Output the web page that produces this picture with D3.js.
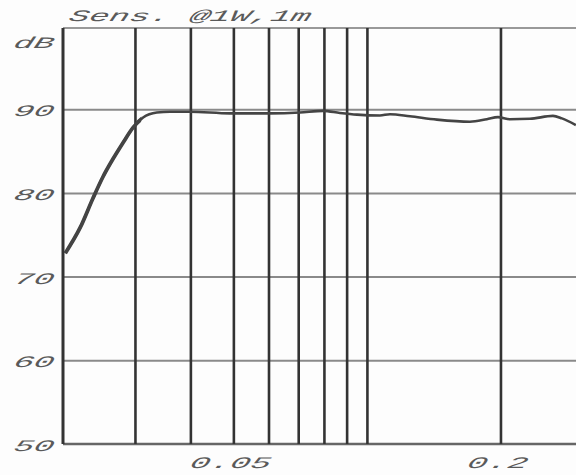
<!DOCTYPE html>
<html>
<head>
<meta charset="utf-8">
<script src="https://cdn.jsdelivr.net/npm/d3@7"></script>
<style>
  body { margin: 0; background: #fdfdfd; }
  svg { display: block; }
  .lbl { font-family: "Liberation Mono", "DejaVu Sans Mono", monospace; font-style: italic; fill: #5a5a5a; font-size: 16px; }
</style>
</head>
<body>
<div id="chart"></div>
<script>
// data (frequency in kHz, level in dB)
const freq = [0.0209, 0.0226, 0.0241, 0.0254, 0.0268, 0.0282, 0.0297, 0.0313, 0.0336, 0.036,
              0.0399, 0.0491, 0.0604, 0.0706, 0.0796, 0.0869, 0.095, 0.107, 0.1127, 0.125,
              0.1438, 0.1707, 0.1864, 0.1974, 0.21, 0.233, 0.2626, 0.2751, 0.2958]
const level = [72.8, 75.9, 79.3, 81.9, 84.1, 86.0, 87.8, 89.0, 89.6, 89.7,
               89.7, 89.5, 89.5, 89.6, 89.8, 89.55, 89.35, 89.25, 89.4, 89.15,
               88.75, 88.5, 88.8, 89.05, 88.8, 88.85, 89.2, 88.9, 88.1]
const xGrid = [0.03, 0.04, 0.05, 0.06, 0.07, 0.08, 0.09, 0.1, 0.2]
const xLabels = [0.05, 0.2]
const xLabelText = ['0.05', '0.2']
const yGrid = [60, 70, 80, 90]
const yLabels = [50, 60, 70, 80, 90]
const title = 'Sens. @1W,1m'
const unit = 'dB'

const W = 576, H = 475
const L = 63, R = 576, T = 28, B = 444
const SX = 2.1

const x = d3.scaleLog().domain([0.02065, 0.296]).range([L, R])
const y = d3.scaleLinear().domain([50, 99.7]).range([B, T])

const svg = d3.select('#chart').append('svg')
    .attr('width', W)
    .attr('height', H)

svg.append('rect').attr('width', W).attr('height', H).attr('fill', '#fdfdfd')

// the rising part of the curve is drawn heavier
svg.append('clipPath').attr('id', 'rise')
    .append('rect')
    .attr('x', 0).attr('y', 0)
    .attr('width', x(0.031)).attr('height', H)

// horizontal grid
svg.append('g')
    .attr('transform', `translate(${L},0)`)
    .call(d3.axisLeft(y).tickValues(yGrid).tickSize(-(R - L)).tickFormat(''))
    .call(g => g.select('.domain').remove())
    .selectAll('line').attr('stroke', '#8a8a8a').attr('stroke-width', 2)

// top and bottom border
svg.append('line').attr('x1', L).attr('x2', R).attr('y1', T).attr('y2', T)
    .attr('stroke', '#999').attr('stroke-width', 2)
svg.append('line').attr('x1', L).attr('x2', R).attr('y1', B).attr('y2', B)
    .attr('stroke', '#666').attr('stroke-width', 2.5)

// vertical grid
svg.append('g')
    .attr('transform', `translate(0,${B})`)
    .call(d3.axisBottom(x).tickValues(xGrid).tickSize(-(B - T)).tickFormat(''))
    .call(g => g.select('.domain').remove())
    .selectAll('line').attr('stroke', '#333').attr('stroke-width', 2.6)

// left axis
svg.append('line').attr('x1', L).attr('x2', L).attr('y1', T).attr('y2', B)
    .attr('stroke', '#333').attr('stroke-width', 3)

// response curve
const pts = freq.map((f, i) => [f, level[i]])
const line = d3.line()
    .x(d => x(d[0]))
    .y(d => y(d[1]))
    .curve(d3.curveMonotoneX)

svg.append('path')
    .datum(pts)
    .attr('fill', 'none')
    .attr('stroke', '#444')
    .attr('stroke-width', 2.6)
    .attr('stroke-linejoin', 'round')
    .attr('d', line)
svg.append('path')
    .datum(pts)
    .attr('clip-path', 'url(#rise)')
    .attr('fill', 'none')
    .attr('stroke', '#444')
    .attr('stroke-width', 3.8)
    .attr('stroke-linejoin', 'round')
    .attr('d', line)

// labels (wide oblique technical lettering)
function wideText (px, py, txt, anchor) {
    svg.append('text')
        .attr('class', 'lbl')
        .attr('transform', `translate(${px},${py}) scale(${SX},1) skewX(-8)`)
        .attr('text-anchor', anchor)
        .text(txt)
}

wideText(68, 21, title, 'start')
yLabels.forEach(v => wideText(53, y(v) + 7, String(v), 'end'))
wideText(53, 48, unit, 'end')
xLabels.forEach((v, i) => wideText(x(v) - 4, 468, xLabelText[i], 'middle'))
</script>
</body>
</html>
